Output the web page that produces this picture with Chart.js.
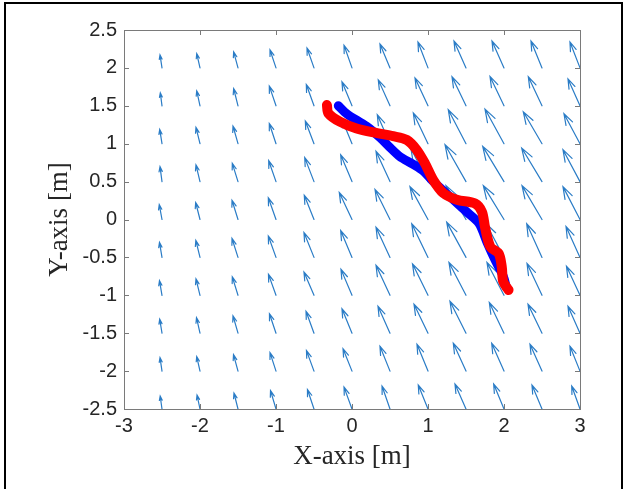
<!DOCTYPE html>
<html>
<head>
<meta charset="utf-8">
<script src="https://cdn.jsdelivr.net/npm/chart.js@4.4.1/dist/chart.umd.min.js"></script>
<style>
  html, body { margin: 0; padding: 0; background: #fff; }
  canvas { display: block; }
</style>
</head>
<body>
<canvas id="fieldChart" width="627" height="489"></canvas>
<script>
/* ================= DATA ================= */
const X_TICKS = [-3, -2, -1, 0, 1, 2, 3];
const Y_TICKS = [-2.5, -2, -1.5, -1, -0.5, 0, 0.5, 1, 1.5, 2, 2.5];

// quiver grid (arrow tails)
const GRID_X = [-2.5, -2, -1.5, -1, -0.5, 0, 0.5, 1, 1.5, 2, 2.5, 3];
const GRID_Y = [2, 1.5, 1, 0.5, 0, -0.5, -1, -1.5, -2, -2.5];

// arrow components as drawn, in cm, one row per GRID_Y entry
const ARROW_U = [
  [-2.6, -4.3, -5.7, -7.9, -9.2, -10.5, -13.2, -13.2, -15.8, -15.8, -14.5, -13.2],
  [-2.2, -4.3, -5.7, -8.8, -10.1, -13.2, -15.4, -17.1, -18.4, -18.4, -18.0, -15.8],
  [-3.0, -5.3, -6.6, -8.8, -11.4, -13.8, -16.7, -19.3, -23.3, -25.0, -24.6, -21.1],
  [-2.6, -5.3, -7.5, -9.6, -12.2, -14.9, -18.4, -22.4, -27.6, -28.0, -26.7, -22.4],
  [-3.6, -5.7, -7.9, -10.1, -12.8, -16.7, -19.7, -23.7, -26.3, -27.2, -26.3, -22.4],
  [-3.3, -5.5, -7.9, -10.1, -13.2, -14.9, -18.4, -21.4, -25.4, -23.7, -20.1, -18.4],
  [-3.3, -5.3, -7.5, -9.9, -13.2, -14.5, -18.4, -20.4, -22.4, -22.4, -19.7, -17.8],
  [-3.0, -4.6, -6.6, -8.6, -10.5, -13.2, -15.8, -18.4, -21.1, -19.3, -18.4, -15.8],
  [-2.6, -4.3, -5.9, -7.9, -9.9, -11.8, -13.2, -14.5, -16.7, -16.2, -15.8, -13.2],
  [-2.4, -3.9, -5.3, -7.2, -8.6, -10.5, -10.5, -12.8, -14.5, -13.6, -13.2, -10.9],
];
const ARROW_V = [
  [17.1, 18.8, 21.1, 23.7, 26.3, 29.9, 31.6, 34.2, 35.5, 35.5, 35.5, 34.2],
  [17.1, 19.7, 22.8, 25.9, 28.0, 31.6, 34.2, 36.8, 38.2, 38.8, 38.2, 35.5],
  [18.8, 21.4, 23.3, 26.7, 29.9, 33.6, 38.2, 40.4, 44.7, 45.7, 42.1, 39.5],
  [19.7, 22.0, 24.1, 27.6, 31.6, 35.5, 39.9, 43.4, 48.7, 46.5, 44.3, 42.1],
  [19.7, 22.4, 25.4, 28.6, 32.0, 35.5, 39.5, 43.4, 44.7, 44.7, 44.7, 43.4],
  [19.7, 22.4, 25.0, 28.3, 32.9, 35.5, 39.9, 44.3, 46.5, 44.7, 44.3, 40.8],
  [19.3, 21.7, 24.3, 27.6, 30.7, 34.2, 39.5, 41.5, 43.4, 43.4, 42.1, 38.2],
  [18.4, 20.4, 23.0, 25.7, 28.9, 32.2, 35.5, 38.2, 42.1, 40.4, 38.2, 35.5],
  [17.8, 19.1, 21.7, 24.3, 27.0, 29.6, 32.9, 35.5, 36.8, 36.8, 35.5, 32.9],
  [17.1, 18.4, 21.1, 24.3, 25.7, 28.9, 30.3, 31.6, 32.9, 32.9, 31.6, 30.3],
];

// trajectories
const BLUE_X = [-0.18, -0.1, -0.02, 0.19, 0.37, 0.5, 0.63, 0.8, 0.95, 1.07, 1.29, 1.51, 1.67, 1.78, 1.88, 1.99, 2.03];
const BLUE_Y = [1.50, 1.42, 1.36, 1.23, 1.08, 0.95, 0.83, 0.73, 0.63, 0.50, 0.30, 0.10, -0.05, -0.31, -0.53, -0.75, -0.89];
const RED_X = [-0.33, -0.31, -0.16, 0.06, 0.33, 0.54, 0.72, 0.85, 0.96, 1.07, 1.20, 1.38, 1.62, 1.71, 1.75, 1.82, 1.93, 1.97, 1.99, 2.06];
const RED_Y = [1.51, 1.40, 1.29, 1.20, 1.14, 1.10, 1.05, 0.92, 0.74, 0.52, 0.35, 0.26, 0.21, 0.10, -0.10, -0.36, -0.45, -0.62, -0.82, -0.93];

/* ================= STYLE ================= */
const AXIS_COLOR = "#7a7a7a";
const TEXT_COLOR = "#262626";
const TICK_FONT = { family: "'Liberation Sans', Arial, sans-serif", size: 20 };
const TITLE_FONT = { family: "'Liberation Serif', 'Times New Roman', serif", size: 27 };

const toPoints = (xs, ys) => xs.map((x, i) => ({ x, y: ys[i] }));

/* ================= PLUGINS ================= */
const quiver = {
  id: "quiver",
  beforeDatasetsDraw(chart) {
    const { ctx, scales: { x, y } } = chart;
    ctx.save();
    ctx.strokeStyle = "#2a7cc6";
    ctx.lineWidth = 1.2;
    ctx.lineCap = "round";
    GRID_Y.forEach((gy, r) => {
      GRID_X.forEach((gx, c) => {
        const u = ARROW_U[r][c] / 100;
        const v = ARROW_V[r][c] / 100;
        const x0 = x.getPixelForValue(gx);
        const y0 = y.getPixelForValue(gy);
        const x1 = x.getPixelForValue(gx + u);
        const y1 = y.getPixelForValue(gy + v);
        const dx = x1 - x0;
        const dy = y1 - y0;
        ctx.beginPath();
        ctx.moveTo(x0, y0);
        ctx.lineTo(x1, y1);
        ctx.moveTo(x1 - 0.33 * (dx + 0.33 * dy), y1 - 0.33 * (dy - 0.33 * dx));
        ctx.lineTo(x1, y1);
        ctx.lineTo(x1 - 0.33 * (dx - 0.33 * dy), y1 - 0.33 * (dy + 0.33 * dx));
        ctx.stroke();
      });
    });
    ctx.restore();
  },
};

const axesBox = {
  id: "axesBox",
  afterDraw(chart) {
    const { ctx, chartArea: a, scales: { x, y } } = chart;
    ctx.save();
    ctx.strokeStyle = AXIS_COLOR;
    ctx.lineWidth = 1;
    ctx.strokeRect(a.left + 0.5, a.top + 0.5, a.right - a.left, a.bottom - a.top);
    ctx.beginPath();
    const len = 5;
    X_TICKS.forEach((t) => {
      const px = Math.round(x.getPixelForValue(t)) + 0.5;
      ctx.moveTo(px, a.bottom);
      ctx.lineTo(px, a.bottom - len);
      ctx.moveTo(px, a.top);
      ctx.lineTo(px, a.top + len);
    });
    Y_TICKS.forEach((t) => {
      const py = Math.round(y.getPixelForValue(t)) + 0.5;
      ctx.moveTo(a.left, py);
      ctx.lineTo(a.left + len, py);
      ctx.moveTo(a.right, py);
      ctx.lineTo(a.right - len, py);
    });
    ctx.stroke();

    // outer frame
    ctx.strokeStyle = "#000";
    ctx.lineWidth = 2;
    ctx.beginPath();
    ctx.moveTo(5, 489);
    ctx.lineTo(5, 3);
    ctx.lineTo(622, 3);
    ctx.lineTo(622, 489);
    ctx.stroke();
    ctx.restore();
  },
};

/* ================= CHART ================= */
new Chart(document.getElementById("fieldChart"), {
  type: "scatter",
  data: {
    datasets: [
      {
        data: toPoints(BLUE_X, BLUE_Y),
        showLine: true,
        borderColor: "#0000ff",
        borderWidth: 9,
        borderCapStyle: "round",
        borderJoinStyle: "round",
        pointRadius: 0,
        tension: 0.3,
        fill: false,
        order: 2,
      },
      {
        data: toPoints(RED_X, RED_Y),
        showLine: true,
        borderColor: "#ff0000",
        borderWidth: 10,
        borderCapStyle: "round",
        borderJoinStyle: "round",
        pointRadius: 0,
        tension: 0.3,
        fill: false,
        order: 1,
      },
    ],
  },
  options: {
    responsive: false,
    animation: false,
    devicePixelRatio: 1,
    layout: { padding: { top: 30, right: 47, left: 0, bottom: 0 } },
    plugins: { legend: { display: false }, tooltip: { enabled: false } },
    scales: {
      x: {
        type: "linear",
        min: -3,
        max: 3,
        afterBuildTicks: (s) => { s.ticks = X_TICKS.map((v) => ({ value: v })); },
        afterFit: (s) => { s.height = 80; },
        grid: { display: false, drawTicks: false },
        border: { display: false },
        ticks: { callback: (v) => String(v), font: TICK_FONT, color: TEXT_COLOR, padding: 5, maxRotation: 0, autoSkip: false },
        title: { display: true, text: "X-axis [m]", font: TITLE_FONT, color: TEXT_COLOR, padding: { top: 0, bottom: 16 } },
      },
      y: {
        type: "linear",
        min: -2.5,
        max: 2.5,
        afterBuildTicks: (s) => { s.ticks = Y_TICKS.map((v) => ({ value: v })); },
        afterFit: (s) => { s.width = 124; },
        grid: { display: false, drawTicks: false },
        border: { display: false },
        ticks: { callback: (v) => String(v), font: TICK_FONT, color: TEXT_COLOR, padding: 7, autoSkip: false },
        title: { display: true, text: "Y-axis [m]", font: TITLE_FONT, color: TEXT_COLOR, padding: { top: 44, bottom: 0 } },
      },
    },
  },
  plugins: [quiver, axesBox],
});
</script>
</body>
</html>
